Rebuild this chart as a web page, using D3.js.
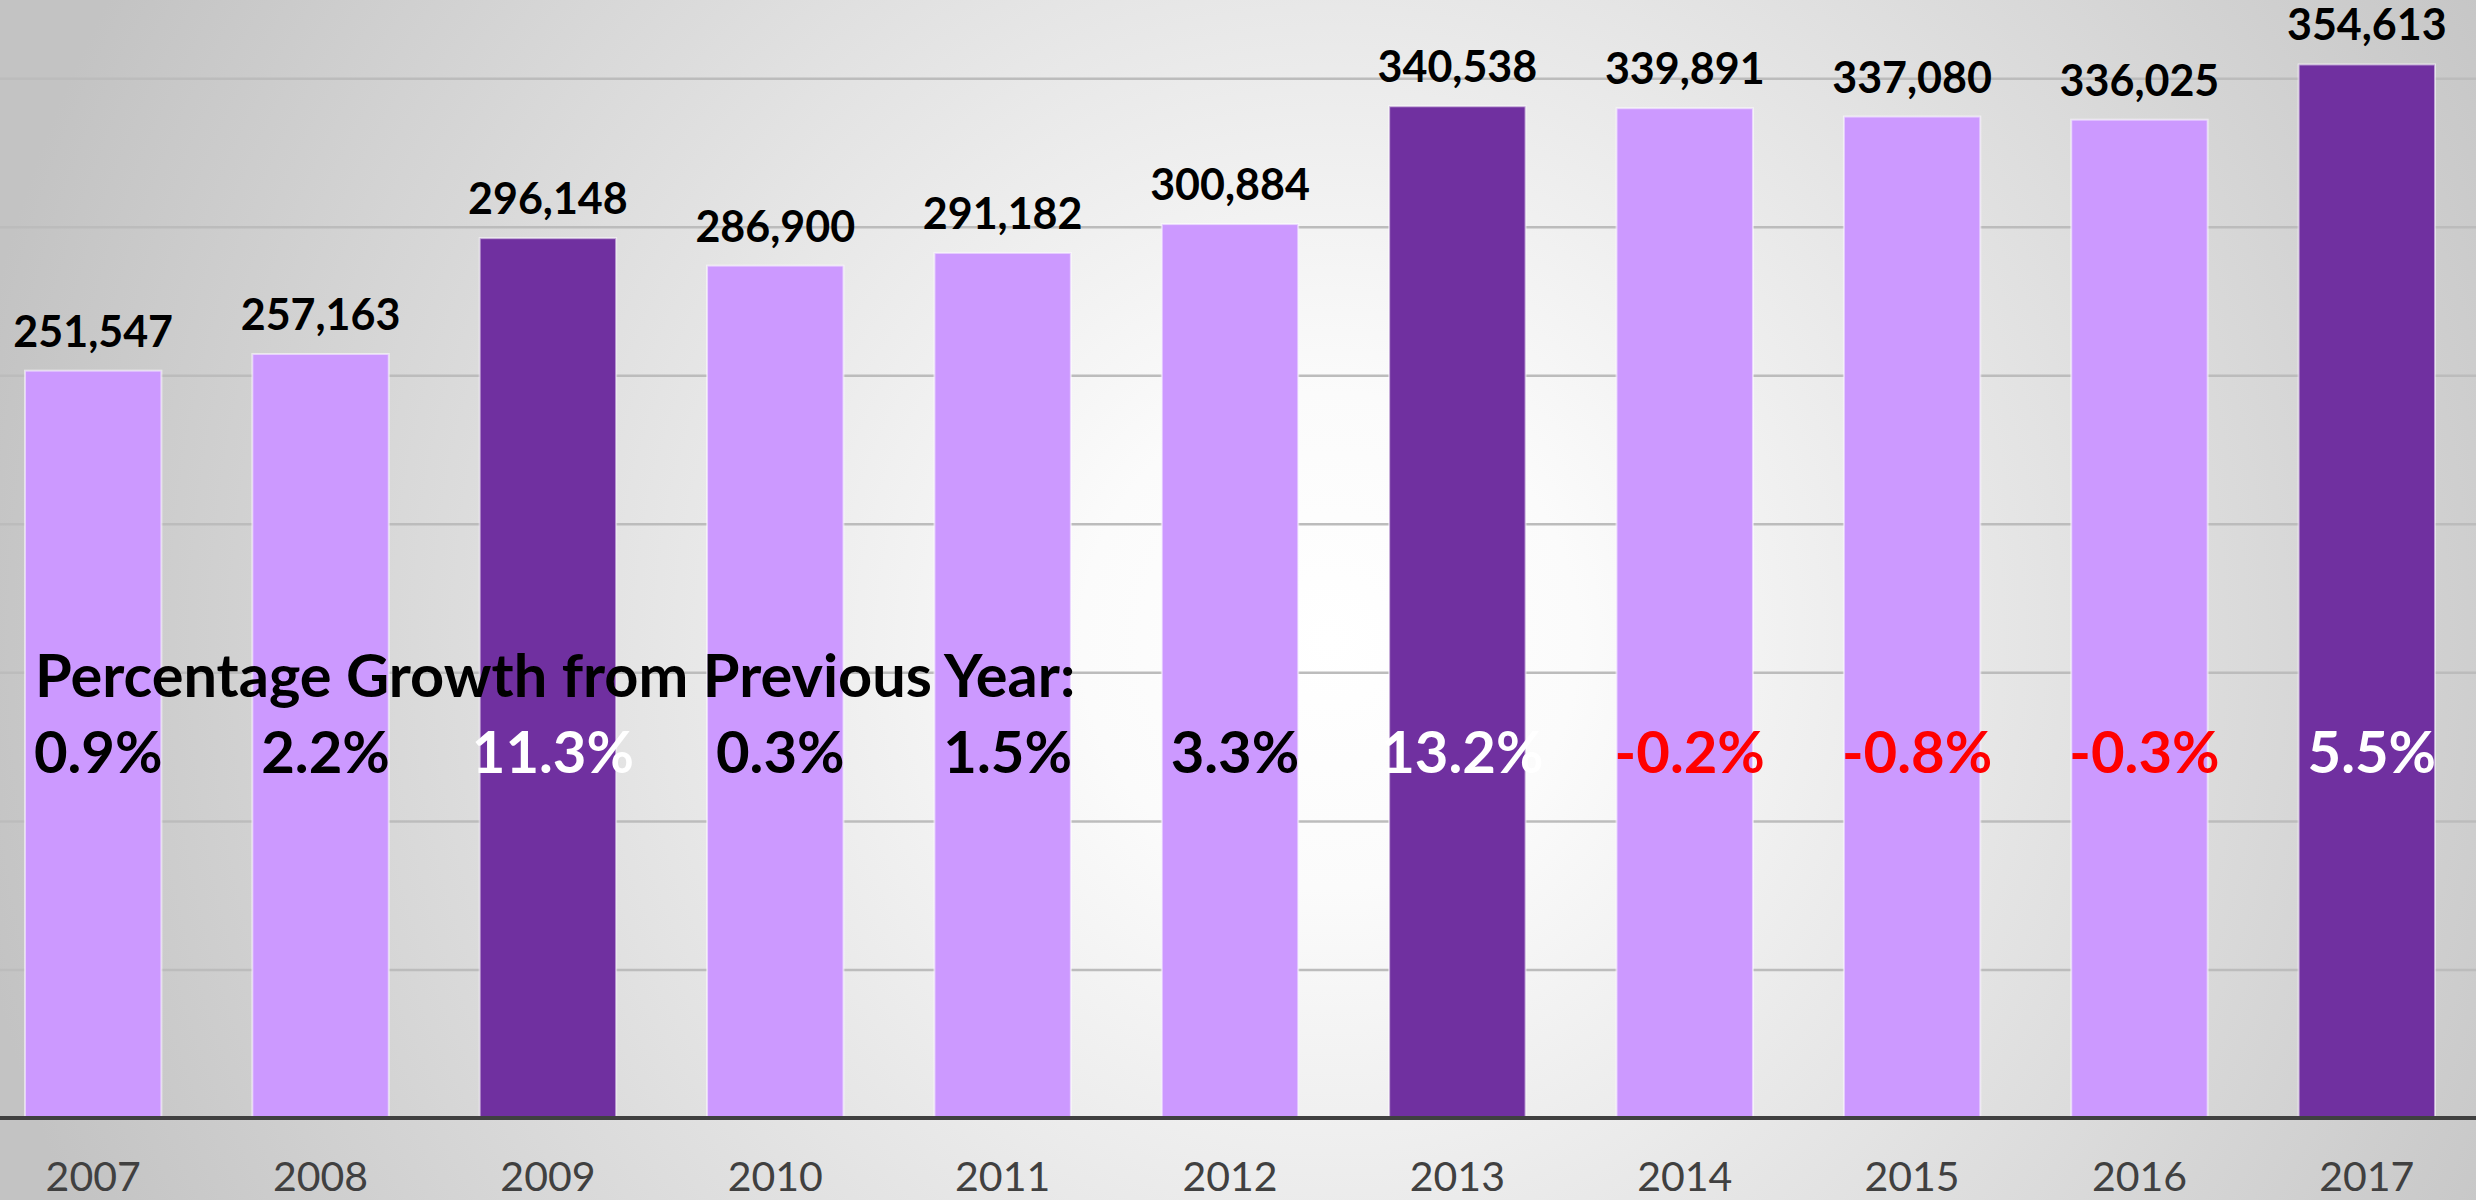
<!doctype html>
<html>
<head>
    <meta charset="utf-8">
    <title>Annual totals 2007-2017</title>
    <script src="https://d3js.org/d3.v7.min.js"></script>
    <style type="text/css">
        html, body { width: 100%; height: 100%; margin: 0; overflow: hidden; }
        svg { display: block; }
        text { font-family: Lato, Calibri, "Open Sans", sans-serif; }
    </style>
</head>
<body>
    <div id="chart"></div>

    <script type="text/javascript">
        var years = ["2007", "2008", "2009", "2010", "2011", "2012", "2013", "2014", "2015", "2016", "2017"];
        var totals = [251547, 257163, 296148, 286900, 291182, 300884, 340538, 339891, 337080, 336025, 354613];
        var growth = [0.9, 2.2, 11.3, 0.3, 1.5, 3.3, 13.2, -0.2, -0.8, -0.3, 5.5];
        var highlighted = ["2009", "2013", "2017"];
        var gridTicks = [50000, 100000, 150000, 200000, 250000, 300000, 350000];
        var growthTitle = "Percentage Growth from Previous Year:";

        var W = 2476, H = 1200;
        var baseY = 1118;

        // plain hyphen for negatives, like the original slide
        var loc = d3.formatLocale({ decimal: ".", thousands: ",", grouping: [3], currency: ["", ""], minus: "-" });
        var fmtPct = loc.format(".1f");
        var fmtVal = loc.format(",");

        var svg = d3.select("#chart").append("svg")
            .attr("width", W)
            .attr("height", H);

        // background: soft radial highlight
        var defs = svg.append("defs");
        var grad = defs.append("radialGradient")
            .attr("id", "bg")
            .attr("gradientUnits", "userSpaceOnUse")
            .attr("cx", 1330).attr("cy", 640).attr("r", 1380);
        grad.append("stop").attr("offset", "0").attr("stop-color", "#ffffff");
        grad.append("stop").attr("offset", "0.18").attr("stop-color", "#fbfbfb");
        grad.append("stop").attr("offset", "1").attr("stop-color", "#c3c3c3");
        svg.append("rect").attr("width", W).attr("height", H).attr("fill", "url(#bg)");

        var x = d3.scaleBand()
            .domain(years)
            .range([-20.5, 2480.5])
            .paddingInner(0.4)
            .paddingOuter(0.2);

        var y = d3.scaleLinear()
            .domain([0, 400000])
            .range([baseY, baseY - 400000 * 0.002971]);

        // gridlines
        svg.append("g")
            .attr("class", "grid")
            .call(d3.axisRight(y).tickValues(gridTicks).tickSize(W).tickFormat(""))
            .call(function(g) {
                g.select(".domain").remove();
                g.selectAll(".tick line").attr("stroke", "#bcbcbc").attr("stroke-width", 2.5);
            });

        var rows = years.map(function(d, i) {
            return { year: d, value: totals[i], growth: growth[i], dark: highlighted.indexOf(d) >= 0 };
        });

        svg.selectAll(".bar")
            .data(rows)
            .enter()
            .append("rect")
            .attr("class", "bar")
            .attr("x", function(d) { return x(d.year); })
            .attr("width", x.bandwidth())
            .attr("y", function(d) { return y(d.value); })
            .attr("height", function(d) { return baseY - y(d.value); })
            .attr("fill", function(d) { return d.dark ? "#7030a0" : "#cc99ff"; })
            .attr("stroke", "#ffffff")
            .attr("stroke-opacity", 0.55)
            .attr("stroke-width", 2);

        // x axis
        var xAxis = svg.append("g")
            .attr("transform", "translate(0," + baseY + ")")
            .call(d3.axisBottom(x).tickSize(0).tickPadding(0));
        xAxis.select(".domain")
            .attr("d", "M0,0H" + W)
            .attr("stroke", "#404040")
            .attr("stroke-width", 4);
        xAxis.selectAll(".tick text")
            .attr("y", 73)
            .attr("dy", null)
            .attr("fill", "#404040")
            .style("font-family", "Lato, Calibri, sans-serif")
            .style("font-size", "41px");

        // value labels
        svg.selectAll(".val")
            .data(rows)
            .enter()
            .append("text")
            .attr("class", "val")
            .attr("x", function(d) { return x(d.year) + x.bandwidth() / 2; })
            .attr("y", function(d) { return y(d.value) - 24; })
            .attr("text-anchor", "middle")
            .attr("fill", "#000000")
            .style("font-weight", "bold")
            .style("font-size", "43px")
            .text(function(d) { return fmtVal(d.value); });

        // growth title and row
        svg.append("text")
            .attr("x", 35)
            .attr("y", 697)
            .attr("fill", "#000000")
            .style("font-weight", "bold")
            .style("font-size", "59.5px")
            .text(growthTitle);

        svg.selectAll(".pct")
            .data(rows)
            .enter()
            .append("text")
            .attr("class", "pct")
            .attr("x", function(d) { return x(d.year) + x.bandwidth() / 2 + 5; })
            .attr("y", 773)
            .attr("text-anchor", "middle")
            .attr("fill", function(d) {
                if (d.growth < 0) return "#ff0000";
                return d.dark ? "#ffffff" : "#000000";
            })
            .style("font-weight", "bold")
            .style("font-size", "58px")
            .text(function(d) { return fmtPct(d.growth) + "%"; });
    </script>
</body>
</html>
